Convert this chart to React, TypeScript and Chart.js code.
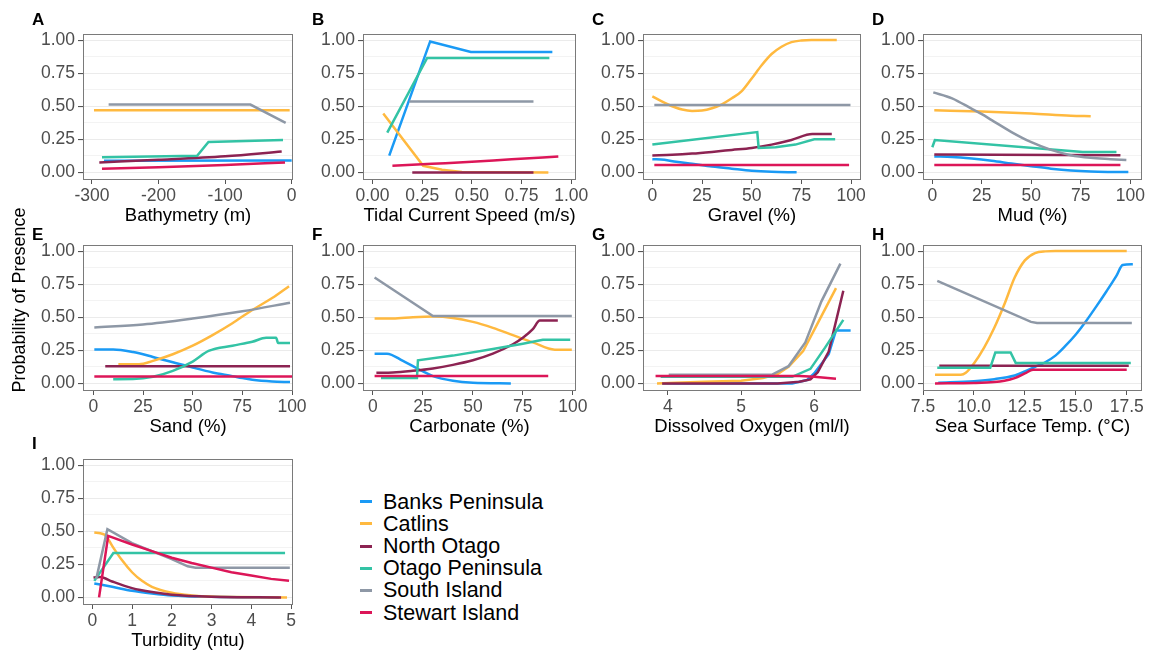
import React, { useEffect, useRef } from "react";
import { Chart, registerables } from "chart.js";

Chart.register(...registerables);

type Pt = [number, number];

const seriesNames = ["Banks Peninsula", "Catlins", "North Otago", "Otago Peninsula", "South Island", "Stewart Island"];
const seriesColors = ["#1a9af5", "#ffb93f", "#8c2352", "#33c3a5", "#8e98a6", "#dc1658"];

const yMajorTicks = [0, 0.25, 0.5, 0.75, 1];
const yMinorTicks = [0.125, 0.375, 0.625, 0.875];

// A — Bathymetry (m)
const bathyTicks = [-300, -200, -100, 0];
const bathyBanks: Pt[] = [[-282, 0.088], [0, 0.09]];
const bathyCatlins: Pt[] = [[-297, 0.47], [-3, 0.47]];
const bathyNorth: Pt[] = [[-289, 0.075], [-200, 0.095], [-100, 0.122], [-15, 0.158]];
const bathyOtago: Pt[] = [[-285, 0.115], [-142, 0.125], [-125, 0.23], [-13, 0.245]];
const bathySouth: Pt[] = [[-275, 0.513], [-62, 0.513], [-9, 0.375]];
const bathyStewart: Pt[] = [[-285, 0.028], [-200, 0.038], [-100, 0.055], [-10, 0.075]];

// B — Tidal Current Speed (m/s)
const tidalTicks = [0, 0.25, 0.5, 0.75, 1];
const tidalBanks: Pt[] = [[0.084, 0.127], [0.29, 0.99], [0.495, 0.91], [0.905, 0.91]];
const tidalCatlins: Pt[] = [[0.054, 0.445], [0.255, 0.05], [0.35, 0.02], [0.45, 0.003], [0.885, 0.0]];
const tidalNorth: Pt[] = [[0.2, 0.0], [0.81, 0.0]];
const tidalOtago: Pt[] = [[0.074, 0.3], [0.275, 0.865], [0.89, 0.865]];
const tidalSouth: Pt[] = [[0.185, 0.535], [0.81, 0.535]];
const tidalStewart: Pt[] = [[0.1, 0.05], [0.3, 0.065], [0.5, 0.08], [0.7, 0.1], [0.935, 0.12]];

// C — Gravel (%)
const pctTicks = [0, 25, 50, 75, 100];
const gravelBanks: Pt[] = [[0, 0.1], [6, 0.095], [12, 0.08], [20, 0.065], [30, 0.045], [40, 0.028], [50, 0.012], [60, 0.004], [72.6, 0.001]];
const gravelCatlins: Pt[] = [[0, 0.575], [5, 0.535], [10, 0.5], [15, 0.475], [20, 0.465], [25, 0.468], [30, 0.485], [35, 0.515], [40, 0.56], [45, 0.615], [50, 0.71], [55, 0.81], [60, 0.895], [65, 0.95], [70, 0.985], [75, 0.997], [80, 1.0], [92.8, 1.0]];
const gravelNorth: Pt[] = [[0, 0.128], [10, 0.133], [20, 0.142], [30, 0.155], [40, 0.17], [50, 0.185], [60, 0.21], [70, 0.245], [80.5, 0.29], [90.3, 0.29]];
const gravelOtago: Pt[] = [[0, 0.21], [52.8, 0.305], [53.5, 0.185], [62, 0.19], [72, 0.21], [81.5, 0.25], [92, 0.25]];
const gravelSouth: Pt[] = [[1, 0.51], [99.7, 0.51]];
const gravelStewart: Pt[] = [[1, 0.055], [99, 0.055]];

// D — Mud (%)
const mudBanks: Pt[] = [[1, 0.12], [10, 0.117], [20, 0.105], [30, 0.088], [40, 0.067], [50, 0.047], [60, 0.028], [70, 0.014], [80, 0.006], [90, 0.003], [99, 0.002]];
const mudCatlins: Pt[] = [[1, 0.47], [25, 0.46], [50, 0.445], [70, 0.428], [80, 0.425]];
const mudNorth: Pt[] = [[1, 0.135], [95, 0.13]];
const mudOtago: Pt[] = [[0, 0.19], [1.3, 0.245], [76, 0.155], [93, 0.155]];
const mudSouth: Pt[] = [[0.5, 0.605], [10, 0.56], [20, 0.48], [25, 0.44], [30, 0.395], [40, 0.305], [50, 0.228], [60, 0.17], [70, 0.13], [80, 0.11], [90, 0.1], [98, 0.093]];
const mudStewart: Pt[] = [[1, 0.055], [95, 0.055]];

// E — Sand (%)
const sandBanks: Pt[] = [[0.5, 0.257], [10, 0.257], [20, 0.237], [30, 0.2], [40, 0.16], [50, 0.12], [60, 0.083], [70, 0.055], [75, 0.04], [80, 0.028], [90, 0.015], [99, 0.01]];
const sandCatlins: Pt[] = [[12.6, 0.145], [23, 0.145], [30, 0.17], [40, 0.22], [50, 0.285], [60, 0.365], [70, 0.455], [80, 0.555], [90, 0.645], [98.5, 0.735]];
const sandNorth: Pt[] = [[6, 0.13], [99, 0.13]];
const sandOtago: Pt[] = [[10, 0.032], [20, 0.033], [30, 0.05], [40, 0.095], [50, 0.165], [58, 0.245], [70, 0.285], [80, 0.315], [87, 0.345], [92, 0.345], [93, 0.305], [99, 0.305]];
const sandSouth: Pt[] = [[0.5, 0.423], [25, 0.445], [50, 0.49], [75, 0.545], [99, 0.61]];
const sandStewart: Pt[] = [[0.5, 0.052], [100, 0.052]];

// F — Carbonate (%)
const carbBanks: Pt[] = [[0.8, 0.225], [7, 0.225], [15, 0.17], [20, 0.13], [25, 0.09], [30, 0.055], [40, 0.02], [50, 0.005], [69, 0.0]];
const carbCatlins: Pt[] = [[0.8, 0.49], [10, 0.49], [20, 0.5], [30, 0.505], [40, 0.495], [50, 0.465], [60, 0.42], [70, 0.365], [80, 0.31], [91, 0.255], [99.5, 0.255]];
const carbNorth: Pt[] = [[1.7, 0.08], [10, 0.082], [20, 0.095], [30, 0.113], [40, 0.14], [50, 0.175], [60, 0.225], [70, 0.296], [75, 0.345], [80, 0.41], [83.5, 0.475], [92.5, 0.475]];
const carbOtago: Pt[] = [[4, 0.04], [22, 0.04], [22.5, 0.175], [40, 0.21], [60, 0.26], [75, 0.3], [85, 0.33], [98.7, 0.33]];
const carbSouth: Pt[] = [[0.8, 0.8], [30, 0.51], [99.5, 0.51]];
const carbStewart: Pt[] = [[0.8, 0.055], [87.7, 0.055]];

// G — Dissolved Oxygen (ml/l)
const oxyTicks = [4, 5, 6];
const oxyBanks: Pt[] = [[3.92, 0.0], [5.7, 0.0], [5.9, 0.025], [6.0, 0.075], [6.2, 0.22], [6.3, 0.4], [6.5, 0.4]];
const oxyCatlins: Pt[] = [[3.85, 0.0], [4.1, 0.005], [4.5, 0.012], [5.0, 0.02], [5.3, 0.04], [5.5, 0.07], [5.65, 0.125], [5.85, 0.245], [6.05, 0.455], [6.3, 0.72]];
const oxyNorth: Pt[] = [[3.92, 0.0], [5.5, 0.0], [5.8, 0.012], [5.95, 0.03], [6.05, 0.085], [6.2, 0.24], [6.4, 0.7]];
const oxyOtago: Pt[] = [[3.9, 0.05], [5.7, 0.05], [5.95, 0.11], [6.15, 0.27], [6.4, 0.48]];
const oxySouth: Pt[] = [[4.01, 0.065], [5.42, 0.065], [5.65, 0.13], [5.88, 0.31], [6.1, 0.62], [6.36, 0.905]];
const oxyStewart: Pt[] = [[3.83, 0.055], [5.8, 0.055], [6.0, 0.05], [6.3, 0.035]];

// H — Sea Surface Temp. (°C)
const sstTicks = [7.5, 10, 12.5, 15, 17.5];
const sstBanks: Pt[] = [[8.25, 0.005], [10, 0.017], [11, 0.032], [12, 0.06], [12.5, 0.09], [13, 0.125], [13.5, 0.16], [14, 0.21], [14.5, 0.285], [15, 0.37], [15.5, 0.47], [16, 0.58], [16.5, 0.695], [17, 0.815], [17.3, 0.895], [17.8, 0.9]];
const sstCatlins: Pt[] = [[8.09, 0.065], [9.36, 0.065], [9.6, 0.08], [10, 0.15], [10.5, 0.27], [11, 0.42], [11.5, 0.6], [12, 0.8], [12.5, 0.93], [13, 0.985], [13.5, 0.998], [14, 1.0], [17.5, 1.0]];
const sstNorth: Pt[] = [[8.3, 0.133], [17.6, 0.133]];
const sstOtago: Pt[] = [[8.2, 0.118], [10.8, 0.118], [11.05, 0.233], [11.8, 0.233], [12.05, 0.155], [17.7, 0.155]];
const sstSouth: Pt[] = [[8.2, 0.775], [12.8, 0.465], [13.1, 0.457], [17.75, 0.457]];
const sstStewart: Pt[] = [[8.09, 0.0], [10, 0.003], [11, 0.01], [11.5, 0.02], [12, 0.04], [12.5, 0.075], [12.9, 0.103], [17.5, 0.103]];

// I — Turbidity (ntu)
const turbTicks = [0, 1, 2, 3, 4, 5];
const turbBanks: Pt[] = [[0.05, 0.105], [0.5, 0.08], [1, 0.05], [1.5, 0.03], [2, 0.015], [3, 0.005], [4.7, 0.0]];
const turbCatlins: Pt[] = [[0.05, 0.49], [0.2, 0.485], [0.3, 0.475], [0.4, 0.44], [0.5, 0.39], [0.75, 0.28], [1.0, 0.19], [1.25, 0.125], [1.5, 0.08], [2.0, 0.035], [2.5, 0.015], [3.0, 0.006], [4.9, 0.0]];
const turbNorth: Pt[] = [[0.03, 0.15], [0.2, 0.155], [0.5, 0.12], [1, 0.07], [1.5, 0.04], [2, 0.02], [3, 0.005], [4.75, 0.0]];
const turbOtago: Pt[] = [[0.05, 0.125], [0.53, 0.335], [4.85, 0.335]];
const turbSouth: Pt[] = [[0.1, 0.14], [0.38, 0.515], [1.0, 0.41], [1.5, 0.35], [2.0, 0.29], [2.4, 0.235], [2.6, 0.225], [4.97, 0.225]];
const turbStewart: Pt[] = [[0.17, 0.0], [0.4, 0.465], [1, 0.4], [1.5, 0.35], [2, 0.3], [2.5, 0.26], [3, 0.225], [3.5, 0.19], [4, 0.165], [4.5, 0.14], [4.95, 0.125]];

const yAxisTitle = "Probability of Presence";

interface PanelDef {
  label: string;
  title: string;
  col: number;
  row: number;
  xMin: number;
  xMax: number;
  xTicks: number[];
  xDec: number;
  series: Pt[][];
  smooth: boolean[];
}

const panels: PanelDef[] = [
  { label: "A", title: "Bathymetry (m)", col: 0, row: 0, xMin: -313.5, xMax: 2, xTicks: bathyTicks, xDec: 0,
    series: [bathyBanks, bathyCatlins, bathyNorth, bathyOtago, bathySouth, bathyStewart], smooth: [false, false, true, false, false, true] },
  { label: "B", title: "Tidal Current Speed (m/s)", col: 1, row: 0, xMin: -0.048, xMax: 1.024, xTicks: tidalTicks, xDec: 2,
    series: [tidalBanks, tidalCatlins, tidalNorth, tidalOtago, tidalSouth, tidalStewart], smooth: [false, false, false, false, false, true] },
  { label: "C", title: "Gravel (%)", col: 2, row: 0, xMin: -4.7, xMax: 105, xTicks: pctTicks, xDec: 0,
    series: [gravelBanks, gravelCatlins, gravelNorth, gravelOtago, gravelSouth, gravelStewart], smooth: [true, true, true, false, false, false] },
  { label: "D", title: "Mud (%)", col: 3, row: 0, xMin: -4.7, xMax: 105.9, xTicks: pctTicks, xDec: 0,
    series: [mudBanks, mudCatlins, mudNorth, mudOtago, mudSouth, mudStewart], smooth: [true, true, false, false, true, false] },
  { label: "E", title: "Sand (%)", col: 0, row: 1, xMin: -5.2, xMax: 100.5, xTicks: pctTicks, xDec: 0,
    series: [sandBanks, sandCatlins, sandNorth, sandOtago, sandSouth, sandStewart], smooth: [true, true, false, true, true, false] },
  { label: "F", title: "Carbonate (%)", col: 1, row: 1, xMin: -5, xMax: 101.6, xTicks: pctTicks, xDec: 0,
    series: [carbBanks, carbCatlins, carbNorth, carbOtago, carbSouth, carbStewart], smooth: [true, true, true, false, false, false] },
  { label: "G", title: "Dissolved Oxygen (ml/l)", col: 2, row: 1, xMin: 3.658, xMax: 6.642, xTicks: oxyTicks, xDec: 0,
    series: [oxyBanks, oxyCatlins, oxyNorth, oxyOtago, oxySouth, oxyStewart], smooth: [false, false, false, false, false, false] },
  { label: "H", title: "Sea Surface Temp. (°C)", col: 3, row: 1, xMin: 7.5, xMax: 18.25, xTicks: sstTicks, xDec: 1,
    series: [sstBanks, sstCatlins, sstNorth, sstOtago, sstSouth, sstStewart], smooth: [true, true, false, false, false, true] },
  { label: "I", title: "Turbidity (ntu)", col: 0, row: 2, xMin: -0.234, xMax: 5.05, xTicks: turbTicks, xDec: 0,
    series: [turbBanks, turbCatlins, turbNorth, turbOtago, turbSouth, turbStewart], smooth: [true, true, true, false, false, false] },
];

const FONT = "'Liberation Sans', Arial, Helvetica, sans-serif";
Chart.defaults.font.family = FONT;

const colLeft = [83, 363, 643, 923];
const colRight = [293, 576, 861, 1142];
const rowTop = [32, 243, 457];
const rowCapTop = [13, 228, 437];
const PLOT_H = 147;
const YW = 60;
const PT = 12;
const XH = 50;

const isMajor = (v: number) => yMajorTicks.some((m) => Math.abs(m - v) < 1e-6);

const borderPlugin = {
  id: "panelBorder",
  afterDraw(chart: any) {
    const { ctx, chartArea: a } = chart;
    ctx.save();
    ctx.strokeStyle = "#7a7a7a";
    ctx.lineWidth = 1;
    ctx.strokeRect(Math.round(a.left) + 0.5, Math.round(a.top) + 0.5, Math.round(a.right - a.left) - 1, Math.round(a.bottom - a.top) - 1);
    ctx.restore();
  },
};

function Panel({ p }: { p: PanelDef }) {
  const ref = useRef<HTMLCanvasElement>(null);
  const pr = p.col === 3 ? 11 : 20;
  const plotW = colRight[p.col] - colLeft[p.col];
  const w = YW + plotW + pr;
  const h = PT + PLOT_H + XH;
  const left = colLeft[p.col] - YW;
  const top = rowTop[p.row] - PT;

  useEffect(() => {
    const yAll = [...yMajorTicks, ...yMinorTicks].sort((a, b) => a - b);
    const datasets = p.series.map((pts, i) => ({
      label: seriesNames[i],
      data: pts.map(([x, y]) => ({ x, y })),
      borderColor: seriesColors[i],
      backgroundColor: seriesColors[i],
      borderWidth: 2.5,
      pointRadius: 0,
      fill: false,
      tension: 0,
      cubicInterpolationMode: p.smooth[i] ? "monotone" : "default",
      order: 5 - i,
    }));
    const chart = new Chart(ref.current as HTMLCanvasElement, {
      type: "line",
      data: { datasets } as any,
      options: {
        animation: false,
        responsive: false,
        devicePixelRatio: 1,
        layout: { padding: { left: 0, top: PT, right: pr, bottom: 0 } },
        plugins: { legend: { display: false }, tooltip: { enabled: false } },
        scales: {
          x: {
            type: "linear",
            min: p.xMin,
            max: p.xMax,
            afterBuildTicks: (s: any) => {
              s.ticks = p.xTicks.map((v) => ({ value: v }));
            },
            afterFit: (s: any) => {
              s.height = XH;
            },
            ticks: {
              autoSkip: false,
              maxRotation: 0,
              minRotation: 0,
              color: "#4d4d4d",
              font: { size: 17.5 },
              padding: 2,
              callback: (v: any) => Number(v).toFixed(p.xDec),
            },
            grid: { display: true, drawOnChartArea: false, drawTicks: true, tickLength: 5, tickColor: "#555555", tickWidth: 1 },
            border: { display: false },
            title: { display: true, text: p.title, color: "#000000", font: { size: 18.5 }, padding: { top: 0, bottom: 2 } },
          },
          y: {
            type: "linear",
            min: -0.05,
            max: 1.05,
            afterBuildTicks: (s: any) => {
              s.ticks = yAll.map((v) => ({ value: v }));
            },
            afterFit: (s: any) => {
              s.width = YW;
            },
            ticks: {
              autoSkip: false,
              color: "#4d4d4d",
              font: { size: 17.5 },
              padding: 3,
              callback: (v: any) => (isMajor(Number(v)) ? Number(v).toFixed(2) : ""),
            },
            grid: {
              color: "#ebebeb",
              lineWidth: (ctx: any) => (ctx.tick && isMajor(ctx.tick.value) ? 1.1 : 0.6),
              tickColor: (ctx: any) => (ctx.tick && isMajor(ctx.tick.value) ? "#555555" : "rgba(0,0,0,0)"),
              tickLength: 5,
              drawTicks: true,
            },
            border: { display: false },
          },
        },
      } as any,
      plugins: [borderPlugin],
    });
    return () => chart.destroy();
  }, []);

  return (
    <>
      <canvas ref={ref} width={w} height={h} style={{ position: "absolute", left, top, width: w, height: h }} />
      <div
        style={{
          position: "absolute",
          left: colLeft[p.col] - 51,
          top: rowCapTop[p.row] - 2.2,
          fontSize: 17,
          fontWeight: "bold",
          lineHeight: 1,
          color: "#000",
          fontFamily: FONT,
        }}
      >
        {p.label}
      </div>
    </>
  );
}

export default function App() {
  const legendRowH = 22.2;
  const legendTop = 501.7 - legendRowH / 2;
  return (
    <div style={{ position: "fixed", left: 0, top: 0, width: 1153, height: 650, overflow: "hidden", background: "#fff", fontFamily: FONT }}>
      {panels.map((p) => (
        <Panel key={p.label} p={p} />
      ))}
      <div
        style={{
          position: "absolute",
          left: 19,
          top: 300,
          transform: "translate(-50%, -50%) rotate(-90deg)",
          whiteSpace: "nowrap",
          fontSize: 18,
          lineHeight: 1,
          color: "#000",
        }}
      >
        {yAxisTitle}
      </div>
      {seriesNames.map((name, i) => (
        <div key={name} style={{ position: "absolute", left: 355, top: legendTop + i * legendRowH, height: legendRowH, width: 300 }}>
          <div style={{ position: "absolute", left: 5, top: legendRowH / 2 - 1.5, width: 12, height: 3, background: seriesColors[i] }} />
          <div style={{ position: "absolute", left: 28, top: 0, fontSize: 21.5, lineHeight: `${legendRowH}px`, whiteSpace: "nowrap", color: "#000" }}>{name}</div>
        </div>
      ))}
    </div>
  );
}
